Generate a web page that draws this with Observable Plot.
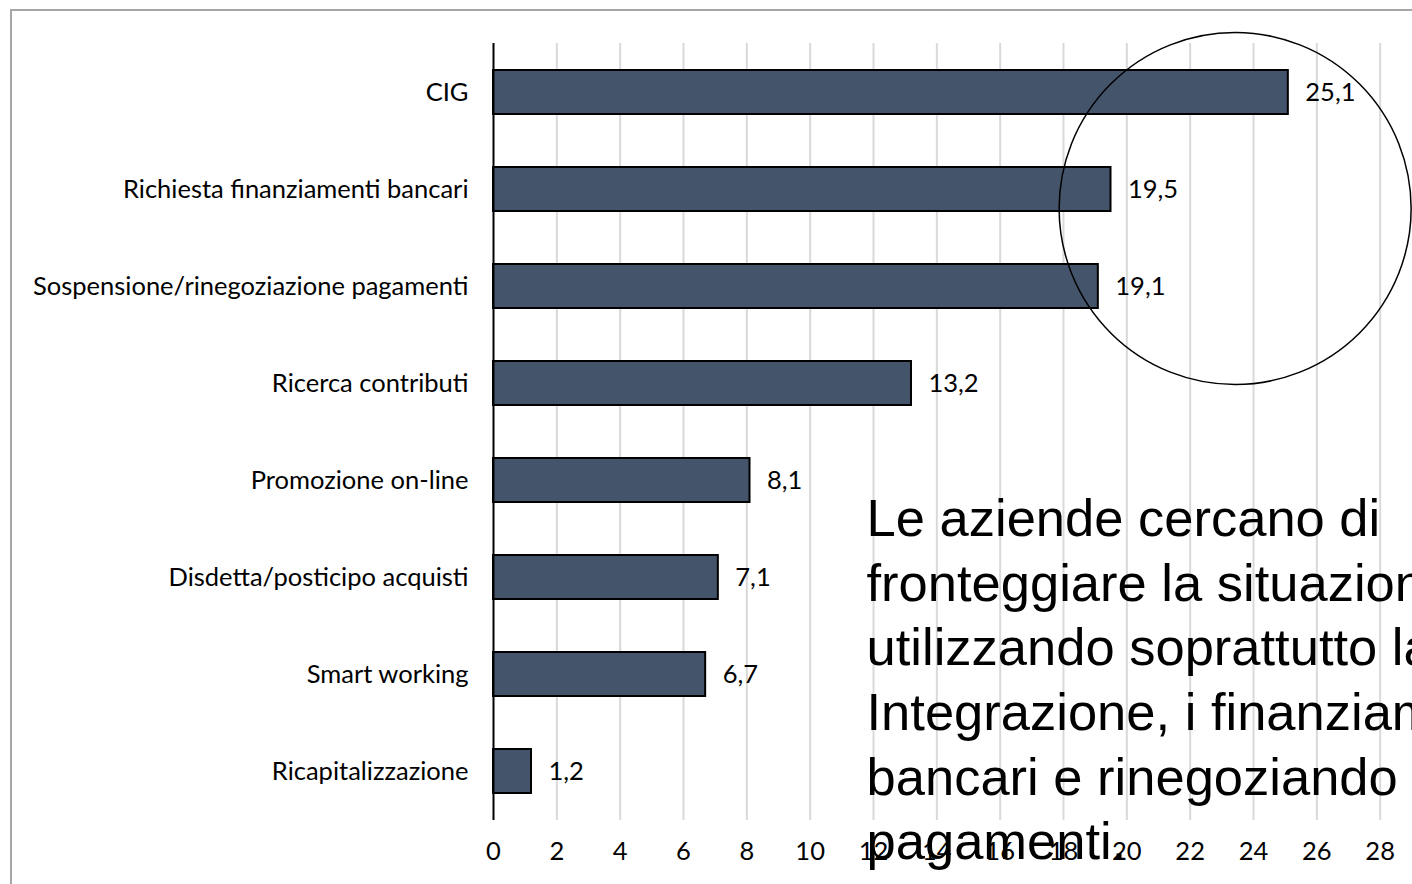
<!DOCTYPE html>
<html>
<head>
<meta charset="utf-8">
<script src="https://cdn.jsdelivr.net/npm/d3@7"></script>
<script src="https://cdn.jsdelivr.net/npm/@observablehq/plot@0.6"></script>
<style>
  html, body { margin: 0; padding: 0; background: #fff; overflow: hidden; width: 1412px; height: 884px; }
  #wrap { position: relative; width: 1412px; height: 884px; overflow: hidden; }
  #border { position: absolute; left: 10px; top: 9px; width: 1500px; height: 1000px; border-left: 2px solid #A6A6A6; border-top: 2px solid #A6A6A6; pointer-events: none; }
  #chart { position: absolute; left: 0; top: 0; width: 1460px; }
  #chart svg { max-width: none !important; }
</style>
</head>
<body>
<div id="wrap"><div id="chart"></div><div id="border"></div></div>
<script>
const categories = [
  "CIG",
  "Richiesta finanziamenti bancari",
  "Sospensione/rinegoziazione pagamenti",
  "Ricerca contributi",
  "Promozione on-line",
  "Disdetta/posticipo acquisti",
  "Smart working",
  "Ricapitalizzazione"
];
const values = [25.1, 19.5, 19.1, 13.2, 8.1, 7.1, 6.7, 1.2];
const xTicks = [0, 2, 4, 6, 8, 10, 12, 14, 16, 18, 20, 22, 24, 26, 28, 30];
const caption = "Le aziende cercano di\nfronteggiare la situazione\nutilizzando soprattutto la Cassa\nIntegrazione, i finanziamenti\nbancari e rinegoziando i\npagamenti.";
const highlight = [{x: 23.42, y: "Richiesta finanziamenti bancari"}];
const captionAnchor = [{x: 11.78, y: "Promozione on-line", text: caption}];

const data = categories.map((c, i) => ({category: c, value: values[i]}));
const fmt = v => v.toFixed(1).replace(".", ",");

const chart = Plot.plot({
  width: 1460,
  height: 884,
  marginLeft: 493,
  marginRight: 17,
  marginTop: 43,
  marginBottom: 64,
  style: {fontFamily: "Lato, 'Open Sans', sans-serif", fontSize: "25.5px", color: "#000", background: "transparent", overflow: "visible", maxWidth: "none"},
  x: {domain: [0, 30], ticks: xTicks, tickSize: 0, tickPadding: 21, tickFormat: d => String(d), label: null},
  y: {domain: categories, paddingInner: 0.55, paddingOuter: 0.275, tickSize: 0, tickPadding: 25, label: null},
  marks: [
    Plot.gridX(xTicks.filter(d => d > 0), {stroke: "#D9D9D9", strokeOpacity: 1, strokeWidth: 2}),
    Plot.barX(data, {x: "value", y: "category", fill: "#44546A", stroke: "#000", strokeWidth: 2}),
    Plot.ruleX([0], {stroke: "#000", strokeWidth: 2}),
    Plot.text(data, {x: "value", y: "category", text: d => fmt(d.value), dx: 17, textAnchor: "start", fill: "#000"}),
    Plot.dot(highlight, {x: "x", y: "y", dy: 19, r: 176, stroke: "#000", strokeWidth: 1.5, fill: "none"}),
    Plot.text(captionAnchor, {x: "x", y: "y", text: "text", dy: 10, textAnchor: "start", lineAnchor: "top", lineHeight: 1.23, fontSize: 52.5, fontFamily: "'Liberation Sans', Arial, sans-serif", fill: "#000"})
  ]
});
document.getElementById("chart").appendChild(chart);
</script>
</body>
</html>
